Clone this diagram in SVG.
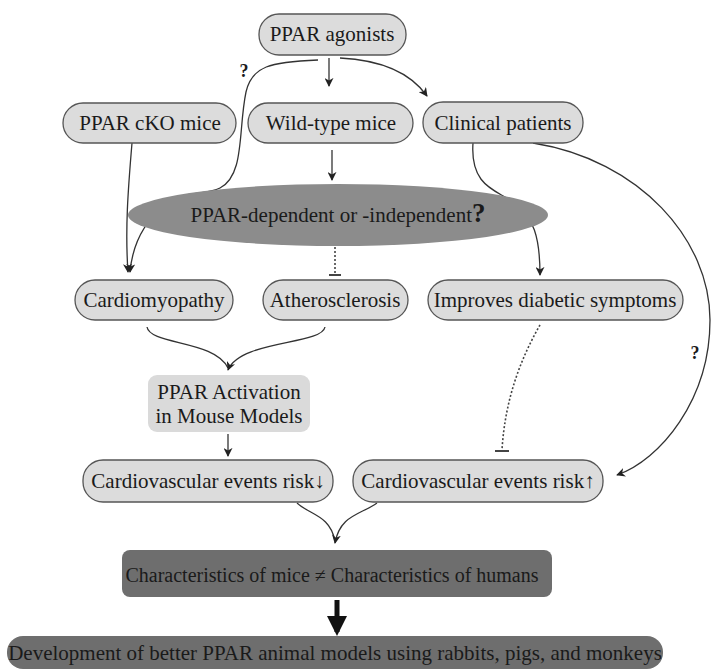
<svg xmlns="http://www.w3.org/2000/svg" width="713" height="669" viewBox="0 0 713 669">
<defs>
<marker id="arr" viewBox="0 0 10 10" refX="9" refY="5" markerWidth="9" markerHeight="9" markerUnits="userSpaceOnUse" orient="auto">
<path d="M0,0 L10,5 L0,10 L3,5 Z" fill="#222"/>
</marker>
<marker id="arrBig" viewBox="0 0 10 10" refX="8" refY="5" markerWidth="4" markerHeight="4" orient="auto">
<path d="M0,0 L10,5 L0,10 Z" fill="#111"/>
</marker>
</defs>
<style>
.node{fill:#dcdcdc;stroke:#555;stroke-width:1.3}
.t{font-size:21px;fill:#1a1a1a;text-anchor:middle}
.c{fill:none;stroke:#333;stroke-width:1.3}
.a{marker-end:url(#arr)}
.dot{fill:none;stroke:#444;stroke-width:1.6;stroke-dasharray:2 2}
.bar{stroke:#444;stroke-width:2}
</style>
<rect width="713" height="669" fill="#fff"/>

<g id="connectors" font-family="'Liberation Serif', 'Times New Roman', serif">
<path class="c a" d="M329,58 L329,86"/>
<path class="c a" d="M340,58 C 380,60 410,72 427,96"/>
<path class="c a" d="M318,60 C 270,62 252,66 246,92 C 238,130 245,175 220,188 C 205,196 180,190 165,205 C 140,225 132,250 130,272"/>
<path class="c a" d="M132,143 C 128,190 125,230 128,272"/>
<path class="c a" d="M332,150 L332,180"/>
<path class="c a" d="M473,143 C 470,185 495,190 510,200 C 535,215 540,240 540,275"/>
<path class="c a" d="M533,143 C 640,160 710,240 710,320 C 710,400 660,460 617,475"/>
<path class="dot" d="M335,247 L335,274"/>
<line class="bar" x1="329" y1="275" x2="341" y2="275"/>
<path class="c" d="M147,327 C 150,345 215,340 228,368"/>
<path class="c a" d="M325,327 C 322,345 240,340 228,370"/>
<path class="c a" d="M228,434 L228,456"/>
<path class="dot" d="M540,325 C 520,360 505,400 502,450"/>
<line class="bar" x1="495" y1="451" x2="509" y2="451"/>
<path class="c" d="M297,503 C 310,515 330,515 335,541"/>
<path class="c a" d="M377,503 C 360,515 340,515 335,543"/>
<path d="M337,600 L337,632" stroke="#111" stroke-width="5" fill="none" marker-end="url(#arrBig)"/>
<text class="t" x="244" y="77" style="font-size:18px;font-weight:bold">?</text>
<text class="t" x="695" y="359" style="font-size:18px;font-weight:bold">?</text>
</g>

<g font-family="'Liberation Serif', 'Times New Roman', serif">
<g id="n-agonists"><rect class="node" x="259" y="14" width="147" height="41" rx="20"/><text class="t" x="332" y="41">PPAR agonists</text></g>
<g id="n-cko"><rect class="node" x="63" y="103" width="173" height="40" rx="20"/><text class="t" x="150" y="130">PPAR cKO mice</text></g>
<g id="n-wild"><rect class="node" x="248" y="103" width="165" height="40" rx="20"/><text class="t" x="331" y="130">Wild-type mice</text></g>
<g id="n-clinical"><rect class="node" x="423" y="102" width="160" height="41" rx="20"/><text class="t" x="503" y="130">Clinical patients</text></g>
<g id="n-ppardep"><ellipse cx="338" cy="215" rx="210" ry="31" fill="#8c8c8c"/><text class="t" x="338" y="222">PPAR-dependent or -independent<tspan style="font-size:27px;font-weight:bold">?</tspan></text></g>
<g id="n-cardio"><rect class="node" x="75" y="280" width="158" height="40" rx="20"/><text class="t" x="154" y="307">Cardiomyopathy</text></g>
<g id="n-athero"><rect class="node" x="263" y="280" width="145" height="40" rx="20"/><text class="t" x="335" y="307">Atherosclerosis</text></g>
<g id="n-improves"><rect class="node" x="428" y="280" width="255" height="40" rx="20"/><text class="t" x="555" y="307">Improves diabetic symptoms</text></g>
<g id="n-activation"><rect x="148" y="375" width="162" height="57" rx="9" fill="#dadada"/><text class="t" x="229" y="399">PPAR Activation</text><text class="t" x="229" y="423">in Mouse Models</text></g>
<g id="n-riskdown"><rect class="node" x="83" y="460" width="250" height="42" rx="20"/><text class="t" x="208" y="488">Cardiovascular events risk↓</text></g>
<g id="n-riskup"><rect class="node" x="353" y="460" width="250" height="42" rx="20"/><text class="t" x="478" y="488">Cardiovascular events risk↑</text></g>
<g id="n-characteristics"><rect x="122" y="550" width="430" height="47" rx="8" fill="#6e6e6e"/><text class="t" x="332" y="582" style="font-size:20px">Characteristics of mice ≠ Characteristics of humans</text></g>
<g id="n-development"><rect x="7" y="636" width="656" height="33" rx="16" fill="#6e6e6e"/><text class="t" x="335" y="660">Development of better PPAR animal models using rabbits, pigs, and monkeys</text></g>
</g>
</svg>
